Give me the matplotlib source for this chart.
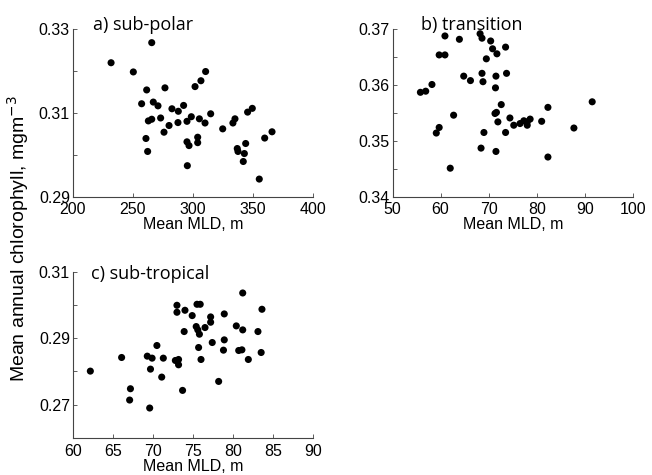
import matplotlib
matplotlib.use('Agg')
import matplotlib.pyplot as plt
from matplotlib.ticker import MultipleLocator

plt.rcParams['font.family'] = ['Liberation Sans', 'DejaVu Sans']

# a) sub-polar
mld_a = [231.9, 265.7, 250.4, 261.5, 276.7, 257.3, 267.0, 270.9, 282.5, 287.8,
         292.2, 301.7, 306.6, 310.5, 314.7, 262.9, 265.7, 273.1, 280.1, 275.9,
         287.5, 295.0, 298.6, 305.3, 310.0, 260.9, 262.3, 295.0, 296.7, 303.9,
         303.9, 295.3, 324.7, 333.2, 334.9, 336.8, 337.4, 342.7, 343.8, 341.8,
         345.4, 349.3, 359.6, 365.7, 355.1]
chl_a = [0.3220, 0.3268, 0.3198, 0.3155, 0.3160, 0.3122, 0.3126, 0.3117, 0.3110, 0.3104,
         0.3118, 0.3163, 0.3177, 0.3199, 0.3098, 0.3081, 0.3085, 0.3088, 0.3070, 0.3054,
         0.3077, 0.3080, 0.3091, 0.3086, 0.3076, 0.3039, 0.3008, 0.3031, 0.3022, 0.3042,
         0.3029, 0.2974, 0.3062, 0.3076, 0.3086, 0.3015, 0.3008, 0.3003, 0.3027, 0.2984,
         0.3102, 0.3111, 0.3040, 0.3055, 0.2942]

# b) transition
mld_b = [55.8, 56.9, 58.2, 60.9, 59.7, 60.9, 63.9, 68.2, 68.6, 70.4,
         70.8, 69.5, 71.7, 73.5, 64.8, 66.2, 68.6, 68.8, 71.5, 73.7,
         71.4, 62.7, 59.7, 59.1, 72.6, 71.3, 71.6, 71.9, 74.4, 69.0,
         73.5, 75.2, 76.5, 77.3, 78.0, 78.0, 78.6, 81.0, 82.3, 87.7,
         91.5, 68.4, 71.5, 82.3, 62.0]
chl_b = [0.3587, 0.3589, 0.3601, 0.3688, 0.3654, 0.3654, 0.3682, 0.3692, 0.3684, 0.3679,
         0.3665, 0.3647, 0.3656, 0.3668, 0.3616, 0.3608, 0.3621, 0.3606, 0.3616, 0.3621,
         0.3595, 0.3546, 0.3524, 0.3514, 0.3565, 0.3549, 0.3551, 0.3534, 0.3541, 0.3515,
         0.3515, 0.3528, 0.3531, 0.3536, 0.3534, 0.3528, 0.3539, 0.3535, 0.3560, 0.3523,
         0.3570, 0.3487, 0.3481, 0.3471, 0.3451]

# c) sub-tropical
mld_c = [62.2, 66.1, 67.2, 67.1, 69.6, 69.3, 69.9, 69.7, 70.5, 71.3,
         71.1, 72.8, 73.2, 73.2, 73.0, 73.0, 74.0, 73.9, 73.7, 74.9,
         75.5, 75.9, 75.4, 75.6, 75.8, 75.7, 76.0, 76.5, 77.2, 77.2,
         77.4, 78.9, 78.9, 78.8, 78.2, 80.4, 80.7, 81.1, 81.2, 81.2,
         81.9, 83.1, 83.6, 83.5]
chl_c = [0.2801, 0.2842, 0.2748, 0.2714, 0.2690, 0.2846, 0.2840, 0.2807, 0.2878, 0.2840,
         0.2783, 0.2833, 0.2836, 0.2820, 0.2999, 0.2978, 0.2984, 0.2920, 0.2743, 0.2968,
         0.3002, 0.3002, 0.2935, 0.2925, 0.2912, 0.2872, 0.2836, 0.2932, 0.2964, 0.2948,
         0.2887, 0.2973, 0.2895, 0.2864, 0.2770, 0.2937, 0.2863, 0.2865, 0.2925, 0.3036,
         0.2836, 0.2920, 0.2987, 0.2857]

fig = plt.figure(figsize=(6.52, 4.75), dpi=100)

ax_a = fig.add_axes([0.1115, 0.586, 0.369, 0.3524])
ax_b = fig.add_axes([0.602, 0.586, 0.369, 0.3524])
ax_c = fig.add_axes([0.1115, 0.078, 0.369, 0.350])

panels = [
    (ax_a, mld_a, chl_a, 'a) sub-polar', (200, 400), 50, (0.29, 0.33), 0.085, 1.025),
    (ax_b, mld_b, chl_b, 'b) transition', (50, 100), 10, (0.34, 0.37), 0.12, 1.025),
    (ax_c, mld_c, chl_c, 'c) sub-tropical', (60, 90), 5, (0.26, 0.31), 0.075, 0.985),
]

for ax, x, y, title, xlim, xstep, ylim, tx, ty in panels:
    ax.scatter(x, y, s=26, color='black', edgecolors='none', zorder=3)
    ax.set_xlim(xlim)
    ax.set_ylim(ylim)
    ax.xaxis.set_major_locator(MultipleLocator(xstep))
    if ax is ax_b:
        ax.yaxis.set_major_locator(MultipleLocator(0.01))
        ax.yaxis.set_minor_locator(MultipleLocator(0.005))
    elif ax is ax_c:
        ax.set_yticks([0.27, 0.29, 0.31])
        ax.set_yticks([0.26, 0.28, 0.30], minor=True)
    else:
        ax.set_yticks([0.29, 0.31, 0.33])
        ax.set_yticks([0.30, 0.32], minor=True)
    ax.yaxis.set_major_formatter(matplotlib.ticker.FormatStrFormatter('%g'))
    for s in ['top', 'right']:
        ax.spines[s].set_visible(False)
    for s in ['left', 'bottom']:
        ax.spines[s].set_color('#444444')
        ax.spines[s].set_linewidth(0.8)
    ax.tick_params(which='both', direction='in', length=3, width=0.6,
                   color='#444444', labelsize=11.5, pad=2)
    ax.tick_params(axis='x', pad=4)
    ax.set_xlabel('Mean MLD, m', fontsize=11.5, labelpad=0)
    ax.text(tx, ty, title, transform=ax.transAxes, fontsize=13,
            family=['Open Sans', 'DejaVu Sans'], va='center', ha='left')

fig.text(0.028, 0.498, 'Mean annual chlorophyll, mgm$^{-3}$', rotation=90,
         ha='center', va='center', fontsize=14)

fig.savefig('out.png', dpi=100)
